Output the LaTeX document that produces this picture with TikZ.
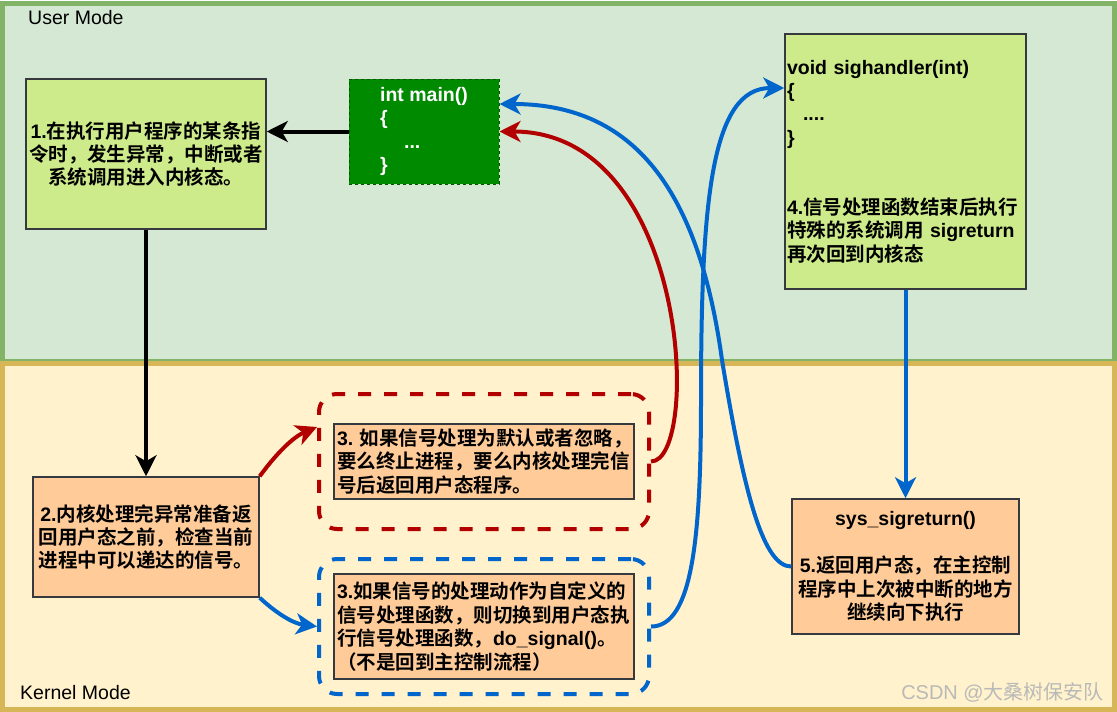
\documentclass[tikz,border=0pt]{standalone}
\usepackage{fontspec}
\setmainfont{Liberation Sans}
\newfontfamily\cjkfont{Noto Sans CJK SC}[BoldFont={Noto Sans CJK SC Bold}]
\newcommand\zh[1]{{\cjkfont #1}}
\usetikzlibrary{arrows.meta}
\definecolor{userfill}{HTML}{D5E8D4}
\definecolor{userline}{HTML}{82B366}
\definecolor{kernfill}{HTML}{FFF2CC}
\definecolor{kernline}{HTML}{D6B656}
\definecolor{limebox}{HTML}{CDEB8B}
\definecolor{peachbox}{HTML}{FFCC99}
\definecolor{boxline}{HTML}{36393D}
\definecolor{maingreen}{HTML}{008A00}
\definecolor{maindark}{HTML}{005700}
\definecolor{arrred}{HTML}{B20000}
\definecolor{arrblue}{HTML}{0066CC}
\tikzset{
  txt/.style={font=\fontsize{19.5}{23.4}\selectfont\bfseries},
  plaintxt/.style={font=\fontsize{19.5}{23.4}\selectfont, inner sep=0pt},
  region/.style={line width=5pt},
  limenode/.style={txt, draw=boxline, fill=limebox, line width=1.5pt, inner sep=0pt},
  peachnode/.style={txt, draw=boxline, fill=peachbox, line width=1.5pt, inner sep=0pt},
  mainnode/.style={txt, text=white, draw=maindark, fill=maingreen, dashed, line width=1pt, inner sep=0pt, align=left},
  groupbox/.style={line width=4pt, dash pattern=on 13pt off 13pt, rounded corners=18pt, inner sep=0pt},
  conn/.style={line width=4pt, -{Stealth[length=21pt,width=21pt,inset=6pt]}},
}
\begin{document}
\begin{tikzpicture}[x=1pt,y=-1pt]
\useasboundingbox (0,0) rectangle (1117,712);
% regions
\draw[region, draw=userline, fill=userfill] (2.5,3) rectangle (1114.5,361);
\draw[region, draw=kernline, fill=kernfill] (2.5,363) rectangle (1114.5,709.5);
\node[plaintxt, anchor=west] (ulabel) at (28,18) {User Mode};
\node[plaintxt, anchor=west] (klabel) at (20,693) {Kernel Mode};
\node[font=\fontsize{20}{24}\selectfont, text=gray!55, anchor=east, inner sep=0pt] (wm) at (1104,692) {CSDN @\zh{大桑树保安队}};

% nodes
\node[limenode, minimum width=240pt, minimum height=150pt, align=center] (box1) at (146,154)
  {1.\zh{在执行用户程序的某条指}\\\zh{令时，发生异常，中断或者}\\\zh{系统调用进入内核态。}};
\node[mainnode, minimum width=150pt, minimum height=105pt] (main) at (424,131.5)
  {int main()\\\{\\\hspace*{24pt}...\\\}};
\node[limenode, minimum width=241pt, minimum height=255pt, text width=237pt, align=left] (sigh) at (905.5,161.5)
  {void sighandler(int)\\\{\\\hspace*{16pt}....\\\}\\[46.8pt]4.\zh{信号处理函数结束后执行}\\\zh{特殊的系统调用} sigreturn\\\zh{再次回到内核态}};
\node[peachnode, minimum width=226pt, minimum height=120pt, align=center] (box2) at (146,537)
  {2.\zh{内核处理完异常准备返}\\\zh{回用户态之前，检查当前}\\\zh{进程中可以递达的信号。}};
\node[groupbox, draw=arrred, minimum width=330pt, minimum height=135pt] (reddash) at (484,461.5) {};
\node[peachnode, minimum width=300pt, minimum height=75pt, text width=294pt, align=left] (box3a) at (484,461.5)
  {\mbox{3.~\zh{如果信号处理为默认或者忽略，}}\\\zh{要么终止进程，要么内核处理完信}\\\zh{号后返回用户态程序。}};
\node[groupbox, draw=arrblue, minimum width=330pt, minimum height=135pt] (bluedash) at (484,626.5) {};
\node[peachnode, minimum width=300pt, minimum height=105pt, text width=294pt, align=left] (box3b) at (484,626.5)
  {3.\zh{如果信号的处理动作为自定义的}\\\zh{信号处理函数，则切换到用户态执}\\\zh{行信号处理函数，}do\_signal()\zh{。}\\\zh{（不是回到主控制流程）}};
\node[peachnode, minimum width=227pt, minimum height=135pt, align=center] (sys) at (905.5,566.5)
  {sys\_sigreturn()\\[23.4pt]5.\zh{返回用户态，在主控制}\\\zh{程序中上次被中断的地方}\\\zh{继续向下执行}};

\coordinate (bend1) at (722,360);
\coordinate (bend2) at (701,400);

% connectors
\draw[conn] (main.west) -- (main.west -| box1.east);
\draw[conn] (box1.south) -- (box2.north);
\draw[conn, color=arrblue] (sigh.south) -- (sys.north);
\draw[conn, color=arrred] (box2.north east) .. controls +(16,-22) and +(-24,10) .. ([yshift=34.5pt]reddash.west);
\draw[conn, color=arrblue] (box2.south east) .. controls +(16,15) and +(-24,-3) .. (bluedash.west);
\draw[conn, color=arrred] (reddash.east) .. controls +(50,0) and +(191,0) .. (main.east);
\draw[conn, color=arrblue] (sys.west) .. controls +(-27,0) and +(23,140) .. (bend1) .. controls +(-22,-160) and +(141,0) .. ([yshift=27.5pt]main.east);
\draw[conn, color=arrblue] (bluedash.east) .. controls +(41,0) and +(0,140) .. (bend2) .. controls +(0,-200) and +(-73,0) .. ([yshift=73.5pt]sigh.west);
\end{tikzpicture}
\end{document}
